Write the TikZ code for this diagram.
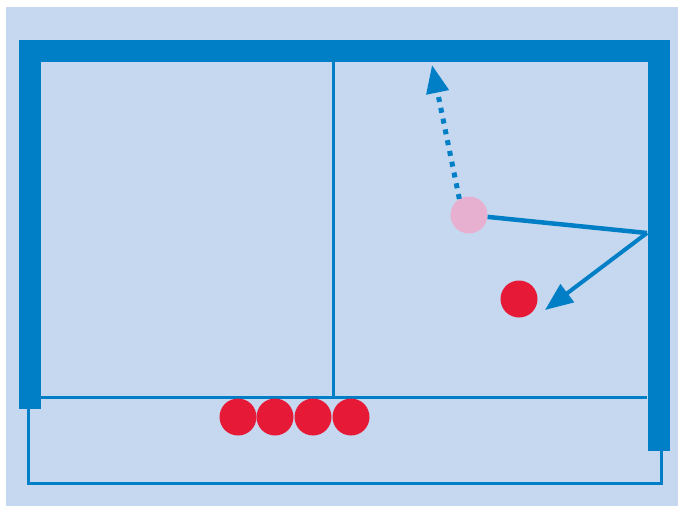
\documentclass[tikz,border=0pt]{standalone}
\usepackage{tikz}
\usetikzlibrary{arrows.meta}

\definecolor{wallblue}{RGB}{0,127,199}
\definecolor{poolblue}{RGB}{197,216,239}
\definecolor{ballred}{RGB}{230,25,55}
\definecolor{ballpink}{RGB}{232,176,208}

\tikzset{
    wall/.style={line width=22pt, wallblue, line join=miter},
    thinline/.style={line width=3pt, wallblue},
    ball/.style={circle, inner sep=0pt, minimum size=37pt, fill=#1},
    path/.style={line width=#1, wallblue},
}

\begin{document}
\begin{tikzpicture}[x=1pt, y=-1pt, >={Triangle[length=28pt, width=22pt]}]

\useasboundingbox (0,0) rectangle (678,506);

% --- BACKGROUND ---
\fill[poolblue] (6,7) rectangle (678,506);

% --- FRAME ---
\draw[wall] (30,409) -- (30,51) -- (658.5,51) -- (658.5,451);
\draw[thinline] (41,397) -- (647,397);
\draw[thinline] (333,62) -- (333,397);
\draw[thinline] (28.5,409) -- (28.5,483) -- (661,483) -- (661,451);

% --- BALLS ---
\foreach \i/\x in {1/238, 2/275, 3/313, 4/351}
    \node[ball=ballred] (row\i) at (\x,417) {};
\node[ball=ballred] (target) at (519,299) {};
\node[ball=ballpink] (cue) at (469,215) {};

% --- PATHS ---
\coordinate (hit) at (647,233);
\coordinate (aim) at (545,310);
\coordinate (up) at (432,65);

\draw[path=4.5pt] (cue) -- (hit);
\draw[path=4pt, ->] (hit) -- (aim);
\draw[path=5pt, dash pattern=on 5pt off 6pt, ->] (cue.121) -- (up);

\end{tikzpicture}
\end{document}
